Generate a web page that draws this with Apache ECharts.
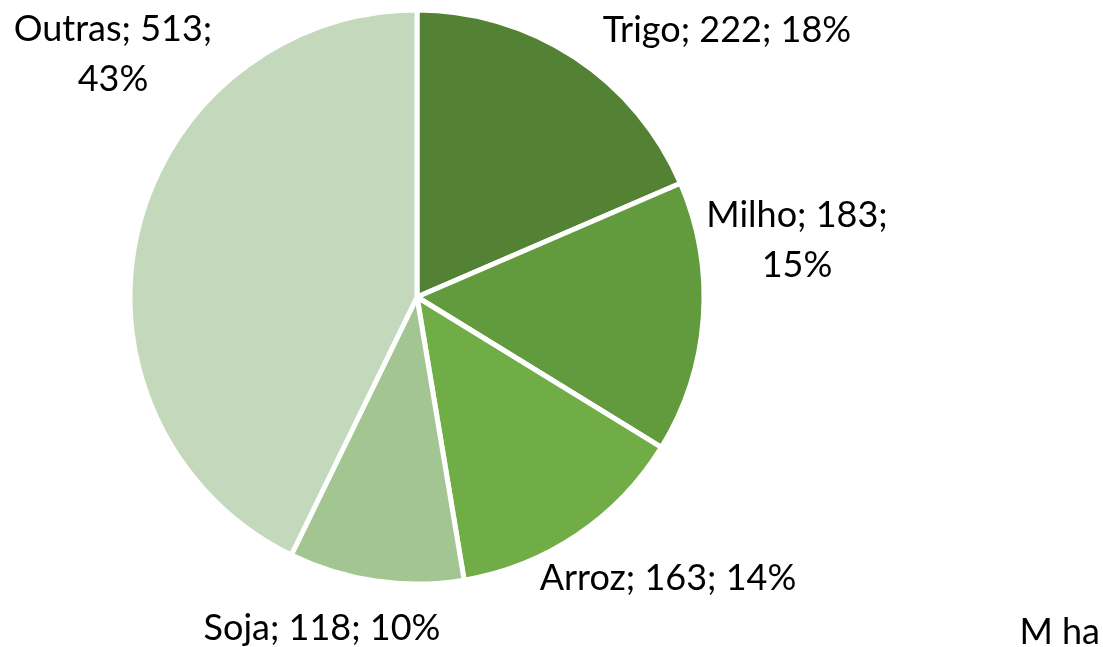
<!DOCTYPE html>
<html lang="en">
<head>
	<meta charset="UTF-8">
	<title>Area</title>
	<style type="text/css">
		html, body { margin: 0; padding: 0; background: #fff; }
		#a { width: 1103px; height: 647px; }
	</style>
</head>
<body>
	<div id="a"></div>
	<script type="text/javascript" src="https://cdn.jsdelivr.net/npm/echarts@6/dist/echarts.min.js"></script>
	<script type="text/javascript">
		// dados (M ha)
		var culturas = ['Trigo', 'Milho', 'Arroz', 'Soja', 'Outras'];
		var areas = [222, 183, 163, 118, 513];
		var cores = ['#548235', '#629A3E', '#70AD47', '#A2C591', '#C4D9BB'];
		// rotulos que quebram em duas linhas
		var quebra = ['Milho', 'Outras'];
		// posicao dos rotulos (centro)
		var posRotulo = [[727, 30], [797, 240], [668, 578], [322, 628], [113, 54]];

		var myChart = echarts.init(document.getElementById('a'));
		var dados = [];
		for (var i = 0; i < culturas.length; i++) {
			dados.push({ name: culturas[i], value: areas[i], itemStyle: { color: cores[i] } });
		}
		var option = {
			animation: false,
			graphic: [{
				type: 'text', right: 3, top: 614,
				style: { text: 'M ha', font: '36px Lato', fill: '#000' }
			}],
			series: [{
				type: 'pie',
				center: [417, 297],
				radius: 287,
				startAngle: 90,
				clockwise: true,
				percentPrecision: 0,
				itemStyle: { borderColor: '#fff', borderWidth: 5 },
				label: {
					show: true,
					position: 'outside',
					overflow: 'none',
					fontFamily: 'Lato',
					fontSize: 36,
					lineHeight: 50,
					color: '#000',
					align: 'center',
					formatter: function (p) {
						var sep = quebra.indexOf(p.name) >= 0 ? '\n' : ' ';
						return p.name + '; ' + p.value + ';' + sep + p.percent + '%';
					}
				},
				labelLine: { show: false },
				labelLayout: function (p) {
					var q = posRotulo[p.dataIndex];
					return { x: q[0], y: q[1], align: 'center', verticalAlign: 'middle' };
				},
				emphasis: { disabled: true },
				data: dados
			}]
		};
		myChart.setOption(option);
	</script>
</body>
</html>
